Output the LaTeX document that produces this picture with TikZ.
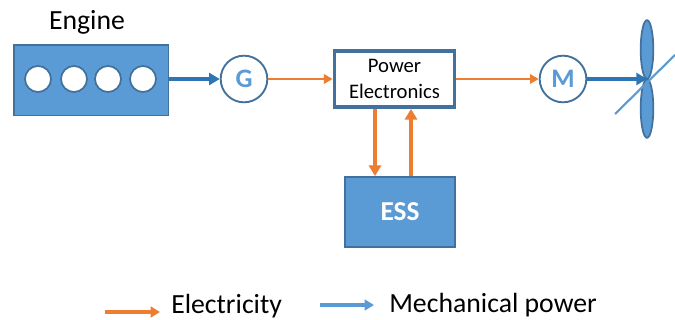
\documentclass[tikz,border=0pt]{standalone}
\usepackage{fontspec}
\setmainfont{Carlito}
\usetikzlibrary{arrows.meta,shapes.geometric}
\definecolor{fillblue}{HTML}{5B9BD5}
\definecolor{edgeblue}{HTML}{41719C}
\definecolor{shaftblue}{HTML}{2E75B6}
\definecolor{elec}{HTML}{ED7D31}
\tikzset{
  x=0.75pt,y=-0.75pt,
  blockfill/.style={draw=edgeblue,line width=1.3pt,fill=fillblue,inner sep=0pt,anchor=north west},
  cyl/.style={circle,draw=edgeblue,line width=1.3pt,fill=white,minimum size=19.5pt,inner sep=0pt},
  machine/.style={circle,draw=edgeblue,line width=1.4pt,fill=white,minimum size=35pt,inner sep=0pt,text=fillblue,font=\bfseries\fontsize{20}{22}\selectfont},
  shaft/.style={shaftblue,line width=2.8pt,-{Triangle[length=8pt,width=9pt]}},
  thinelec/.style={elec,line width=1.9pt,-{Triangle[length=6.5pt,width=7pt]}},
  thickelec/.style={elec,line width=2.9pt,-{Triangle[length=8pt,width=9pt]}},
  legendelec/.style={elec,line width=2.3pt,-{Triangle[length=7pt,width=8pt]}},
  legendmech/.style={fillblue,line width=2.3pt,-{Triangle[length=7pt,width=8pt]}},
  label/.style={text=black,inner sep=0pt,font=\fontsize{20.8}{23}\selectfont},
  blade/.style={draw=edgeblue,line width=1.3pt,fill=fillblue},
}
\begin{document}
\begin{tikzpicture}
\useasboundingbox (0,0) rectangle (675,320);
% engine
\node[blockfill,minimum width=116pt,minimum height=53pt] (engine) at (13,44) {};
\node[cyl] (c1) at (38,79) {};
\node[cyl] (c2) at (74,79) {};
\node[cyl] (c3) at (108,79) {};
\node[cyl] (c4) at (143,79) {};
\node[label] (enginelabel) at (87,22) {Engine};
% machines
\node[machine] (G) at (244,79) {G};
\node[machine] (M) at (563,79) {M};
% power electronics
\node[draw=edgeblue,line width=2.8pt,fill=white,minimum width=90pt,minimum height=42pt,inner sep=0pt,align=center,font=\fontsize{15.5}{19.5}\selectfont] (PE) at (394.5,79) {Power\\Electronics};
% ESS
\node[blockfill,minimum width=82.5pt,minimum height=52.5pt,text=white,font=\bfseries\fontsize{20.5}{22}\selectfont,anchor=center] (ESS) at (400,212) {ESS};
% propeller
\node[blade,ellipse,minimum width=9.5pt,minimum height=44pt,inner sep=0pt] (bladeA) at (647,49.5) {};
\node[blade,ellipse,minimum width=9.5pt,minimum height=44pt,inner sep=0pt] (bladeB) at (647,108.5) {};
\coordinate (hub) at (647,79);
\coordinate (pitchA) at (615,114);
\coordinate (pitchB) at (675,55);
\draw[fillblue,line width=1.6pt] (pitchA) -- (pitchB);
% connectors
\draw[shaft] (engine.east |- c1) -- (G.west);
\draw[thinelec] (G.east) -- (PE.west);
\draw[thinelec] (PE.east) -- (M.west);
\draw[shaft] (M.east) -- (hub);
\draw[thickelec] (PE.south -| 375,0) -- (ESS.north -| 375,0);
\draw[thickelec] (ESS.north -| 411,0) -- (PE.south -| 411,0);
% legend
\coordinate (legE1) at (105,312);
\coordinate (legE2) at (160,312);
\coordinate (legM1) at (320,305);
\coordinate (legM2) at (374,305);
\draw[legendelec] (legE1) -- (legE2);
\draw[legendmech] (legM1) -- (legM2);
\node[label,anchor=base west] (legE) at (171,314) {Electricity};
\node[label,anchor=base west] (legM) at (389,313) {Mechanical power};
\end{tikzpicture}
\end{document}
